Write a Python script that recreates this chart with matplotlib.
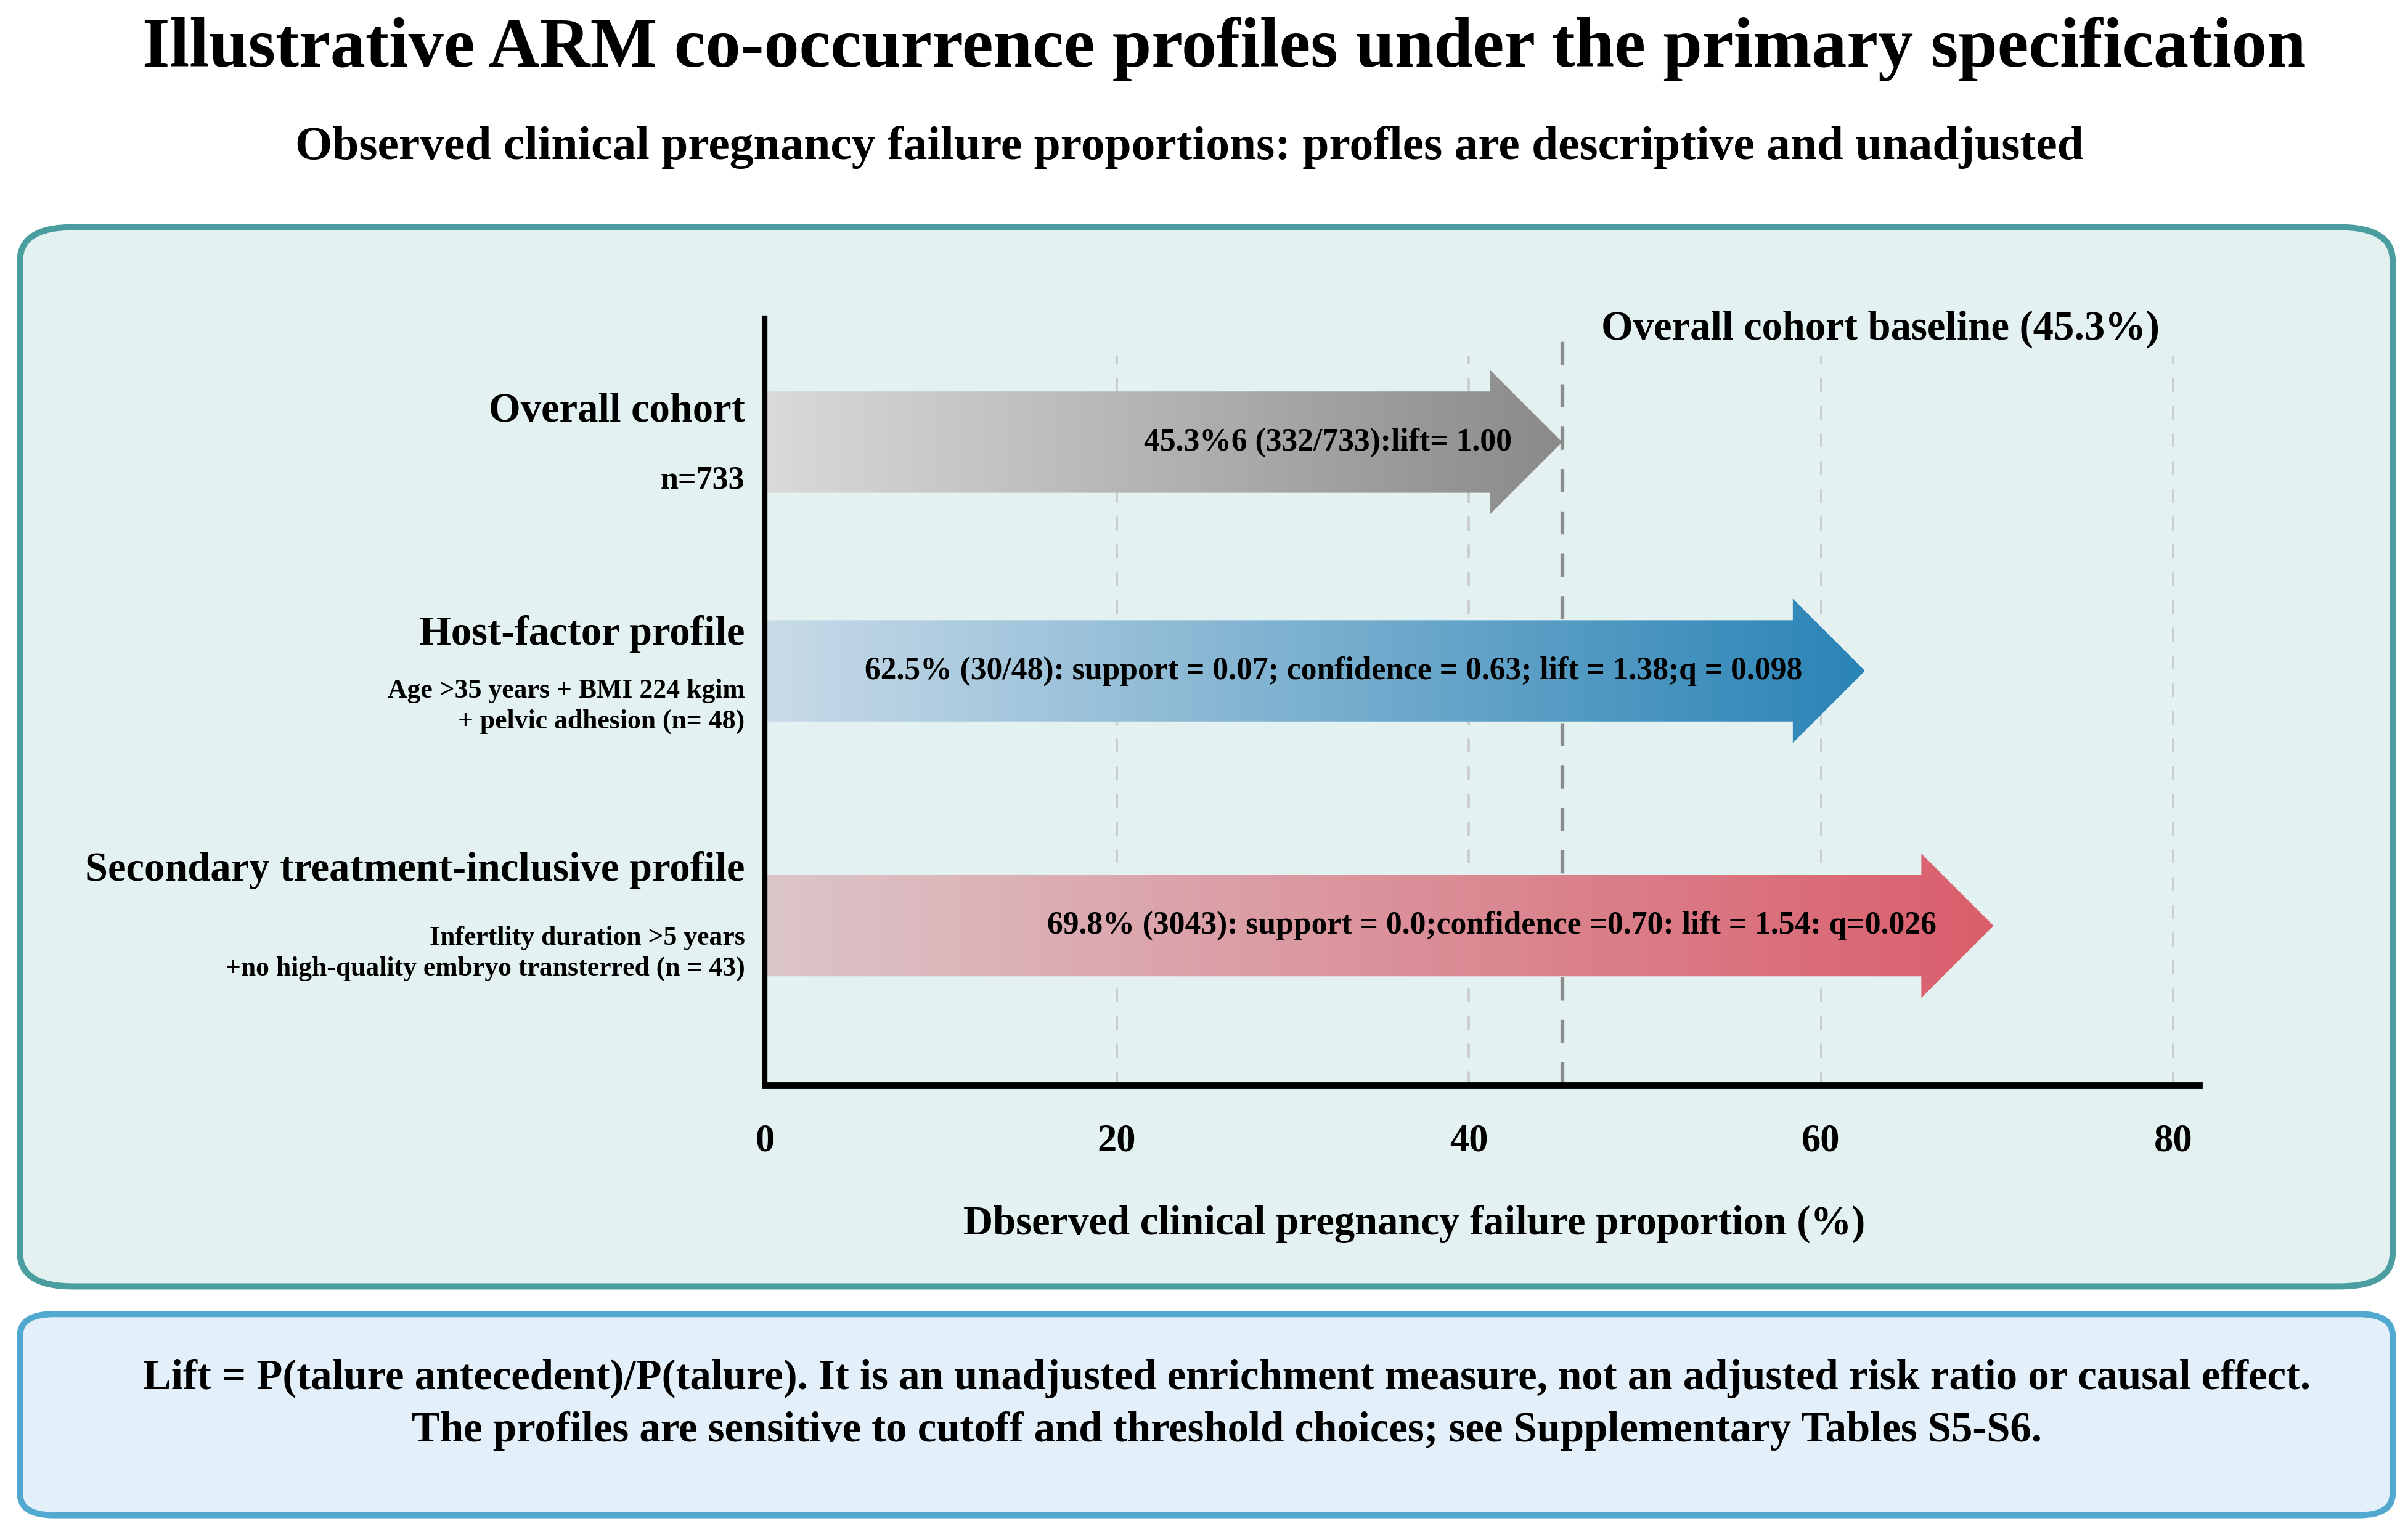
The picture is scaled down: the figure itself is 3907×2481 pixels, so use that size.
import numpy as np
import matplotlib
matplotlib.use('Agg')
import matplotlib.pyplot as plt
from matplotlib.patches import FancyBboxPatch, Polygon
from matplotlib.colors import LinearSegmentedColormap

plt.rcParams['font.family'] = ['Liberation Serif', 'DejaVu Serif']
plt.rcParams['font.weight'] = 'bold'

#--------------------------------------------------- data
profiles   = ['Overall cohort', 'Host-factor profile', 'Secondary treatment-inclusive profile']
sublabels  = ['n=733',
              'Age >35 years + BMI 224 kgim\n+ pelvic adhesion (n= 48)',
              'Infertlity duration >5 years\n+no high-quality embryo transterred (n = 43)']
failure_pct = [45.3, 62.5, 69.8]
arrow_text = ['45.3%6 (332/733):lift= 1.00',
              '62.5% (30/48): support = 0.07; confidence = 0.63; lift = 1.38;q = 0.098',
              '69.8% (3043): support = 0.0;confidence =0.70: lift = 1.54: q=0.026']
baseline_pct = 45.3
xticks = [0, 20, 40, 60, 80]

#--------------------------------------------------- styles
col_left  = ['#dadada', '#c9dbe8', '#dcc6c9']
col_right = ['#8a8a8a', '#2a84b6', '#da5e6c']
ypos      = [0.838, 0.540, 0.208]
txt_x     = [32.0, 32.3, 41.3]
shaft_hw  = 0.066
head_hw   = 0.094
head_len  = 4.1

W, H = 3907, 2481
fig = plt.figure(figsize=(W/300., H/300.), dpi=300)
fig.patch.set_facecolor('white')

def fx(px): return px/1568.
def fy(py): return 1 - py/996.

# panels (behind the axes)
top_box = FancyBboxPatch((fx(13), fy(838)), fx(1545), fy(148)-fy(838),
                         boxstyle='round,pad=0,rounding_size=0.022', transform=fig.transFigure,
                         facecolor='#e3f1f1', edgecolor='#4a9e9f', linewidth=2.4, zorder=-2)
bot_box = FancyBboxPatch((fx(13), fy(987)), fx(1545), fy(856)-fy(987),
                         boxstyle='round,pad=0,rounding_size=0.014', transform=fig.transFigure,
                         facecolor='#e4f0f9', edgecolor='#52a9d0', linewidth=2.4, zorder=-2)
fig.patches.extend([top_box, bot_box])

fig.text(fx(797), fy(32), 'Illustrative ARM co-occurrence profiles under the primary specification',
         ha='center', va='center', fontsize=27.4, fontweight='bold')
fig.text(0.494, fy(96), 'Observed clinical pregnancy failure proportions: profles are descriptive and unadjusted',
         ha='center', va='center', fontsize=18.6, fontweight='bold')

ax = fig.add_axes([fx(498), fy(707), fx(1432)-fx(498), fy(207)-fy(707)])
ax.set_facecolor('none')
xmax = 80*(1432-498)/(1415-498.)
ax.set_xlim(0, xmax)
ax.set_ylim(0, 1)

for s in ['top', 'right']:
    ax.spines[s].set_visible(False)
ax.spines['left'].set_linewidth(2.0)
ax.spines['bottom'].set_linewidth(2.6)
ax.set_yticks([])
ax.set_xticks(xticks)
ax.set_xticklabels([str(t) for t in xticks], fontsize=15, fontweight='bold')
ax.tick_params(axis='x', length=0, pad=15)
ax.set_xlabel('Dbserved clinical pregnancy failure proportion (%)', fontsize=16,
              fontweight='bold')
ax.xaxis.set_label_coords(0.453, -0.155)

# grid lines
for t in xticks[1:]:
    ax.plot([t, t], [0, 0.95], ls=(0, (6, 6)), color='#c8cccc', lw=0.9, zorder=1)
ax.plot([baseline_pct, baseline_pct], [0, 0.985], ls=(0, (6, 5)), color='#8c8c8c', lw=1.5, zorder=1)
ax.text(baseline_pct + 2.2, 0.985, 'Overall cohort baseline (45.3%)', ha='left', va='center',
        fontsize=16, fontweight='bold')

# gradient arrows
for i in range(len(profiles)):
    v = failure_pct[i]
    yc = ypos[i]
    pts = [(0, yc-shaft_hw), (v-head_len, yc-shaft_hw), (v-head_len, yc-head_hw), (v, yc),
           (v-head_len, yc+head_hw), (v-head_len, yc+shaft_hw), (0, yc+shaft_hw)]
    poly = Polygon(pts, closed=True, facecolor='none', edgecolor='none')
    ax.add_patch(poly)
    cmap = LinearSegmentedColormap.from_list('g%d' % i, [col_left[i], col_right[i]])
    grad = np.linspace(0, 1, 256).reshape(1, -1)
    im = ax.imshow(grad, cmap=cmap, extent=[0, v, yc-head_hw, yc+head_hw],
                   aspect='auto', origin='lower', zorder=2)
    im.set_clip_path(poly)
    ax.text(txt_x[i], yc, arrow_text[i], ha='center', va='center', fontsize=12.4,
            fontweight='bold', zorder=5)

# left labels
lab_y = [268, 413, 567]
sub_y = [313, 460, 621]
for i in range(len(profiles)):
    fig.text(fx(485), fy(lab_y[i]), profiles[i], ha='right', va='center', fontsize=16, fontweight='bold')
    fs = 12.5 if i == 0 else 10.5
    fig.text(fx(485), fy(sub_y[i]), sublabels[i], ha='right', va='center', fontsize=fs,
             fontweight='bold', linespacing=1.3)

# footnote
fig.text(fx(799), fy(898), 'Lift = P(talure antecedent)/P(talure). It is an unadjusted enrichment measure, '
         'not an adjusted risk ratio or causal effect.', ha='center', va='center', fontsize=16.5, fontweight='bold')
fig.text(fx(799), fy(932), 'The profiles are sensitive to cutoff and threshold choices; see Supplementary Tables S5-S6.',
         ha='center', va='center', fontsize=16.5, fontweight='bold')

fig.savefig('out.png', dpi=300, facecolor='white')
